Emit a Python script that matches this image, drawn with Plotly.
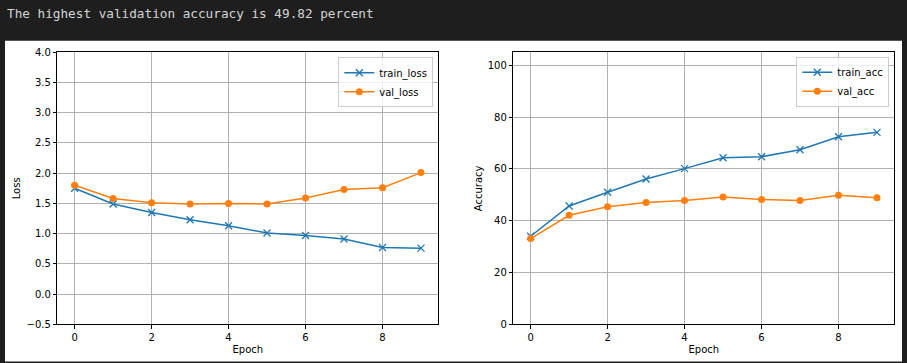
import plotly.graph_objects as go

epochs = list(range(10))
train_loss = [1.75, 1.49, 1.35, 1.23, 1.13, 1.01, 0.97, 0.91, 0.77, 0.76]
val_loss = [1.80, 1.58, 1.51, 1.49, 1.50, 1.49, 1.59, 1.73, 1.76, 2.01]
train_acc = [34.0, 45.7, 51.0, 56.1, 60.1, 64.3, 64.7, 67.4, 72.4, 74.1]
val_acc = [33.1, 42.1, 45.4, 47.0, 47.8, 49.1, 48.2, 47.8, 49.82, 48.9]
header = "The highest validation accuracy is 49.82 percent"

W, H = 907, 363
BLUE, ORANGE = "#1f77b4", "#ff7f0e"

def px_x(p):
    return p / W

def px_y(p):
    return 1 - p / H

fig = go.Figure()

def add(x, y, name, color, symbol, xa, ya, legend):
    if symbol == "x":
        marker = dict(symbol="x-thin", size=7, line=dict(color=color, width=1.3), color=color)
    else:
        marker = dict(symbol="circle", size=7, color=color)
    fig.add_trace(go.Scatter(x=x, y=y, name=name, mode="lines+markers",
                             line=dict(color=color, width=1.5), marker=marker,
                             xaxis=xa, yaxis=ya, legend=legend))

add(epochs, train_loss, "train_loss", BLUE, "x", "x", "y", "legend")
add(epochs, val_loss, "val_loss", ORANGE, "o", "x", "y", "legend")
add(epochs, train_acc, "train_acc", BLUE, "x", "x2", "y2", "legend2")
add(epochs, val_acc, "val_acc", ORANGE, "o", "x2", "y2", "legend2")

font = dict(family="DejaVu Sans", size=10, color="black")
axis_common = dict(showline=True, mirror=True, linecolor="black", linewidth=1,
                   showgrid=True, gridcolor="#b0b0b0", gridwidth=0.8,
                   ticks="outside", ticklen=3.5, tickcolor="black", tickwidth=0.8,
                   zeroline=False, tickfont=font, title_font=font, automargin=False)

yb, yt = px_y(324.3), px_y(52.3)
fig.update_layout(
    width=W, height=H,
    margin=dict(l=0, r=0, t=0, b=0, pad=0),
    paper_bgcolor="#1e1e1e", plot_bgcolor="white",
    font=font,
    xaxis=dict(domain=[px_x(57.3), px_x(438.3)], range=[-0.45, 9.45], dtick=2,
               title=dict(text="Epoch", standoff=4), anchor="y", **axis_common),
    yaxis=dict(domain=[yb, yt], range=[-0.5, 4.0], dtick=0.5, tickformat=".1f",
               title=dict(text="Loss", standoff=3), anchor="x", **axis_common),
    xaxis2=dict(domain=[px_x(513.3), px_x(894.3)], range=[-0.45, 9.45], dtick=2,
                title=dict(text="Epoch", standoff=4), anchor="y2", **axis_common),
    yaxis2=dict(domain=[yb, yt], range=[0, 105], dtick=20,
                title=dict(text="Accuracy", standoff=3), anchor="x2", **axis_common),
    legend=dict(x=px_x(433.3), y=px_y(57.3), xanchor="right", yanchor="top",
                bgcolor="rgba(255,255,255,0.8)", bordercolor="#cccccc", borderwidth=1,
                font=font, tracegroupgap=0),
    legend2=dict(x=px_x(889.3), y=px_y(56.7), xanchor="right", yanchor="top",
                 bgcolor="rgba(255,255,255,0.8)", bordercolor="#cccccc", borderwidth=1,
                 font=font, tracegroupgap=0),
    shapes=[dict(type="rect", xref="paper", yref="paper", layer="below",
                 x0=px_x(5), x1=px_x(902), y0=px_y(361.5), y1=px_y(40.7),
                 fillcolor="white", line=dict(width=0))],
    annotations=[dict(text=header, xref="paper", yref="paper", x=px_x(5), y=px_y(13),
                      xanchor="left", yanchor="middle", showarrow=False,
                      font=dict(family="DejaVu Sans Mono", size=12.7, color="#d4d4d4"))],
)

post = (
    "document.body.style.margin='0';document.body.style.padding='0';"
    "document.body.style.overflow='hidden';"
    "document.documentElement.style.background='#1e1e1e';"
    "var gd=document.getElementById('{plot_id}');"
    "gd.style.position='fixed';gd.style.top='0px';gd.style.left='0px';"
)
fig.write_html("out.html", config={"displayModeBar": False}, post_script=post)
